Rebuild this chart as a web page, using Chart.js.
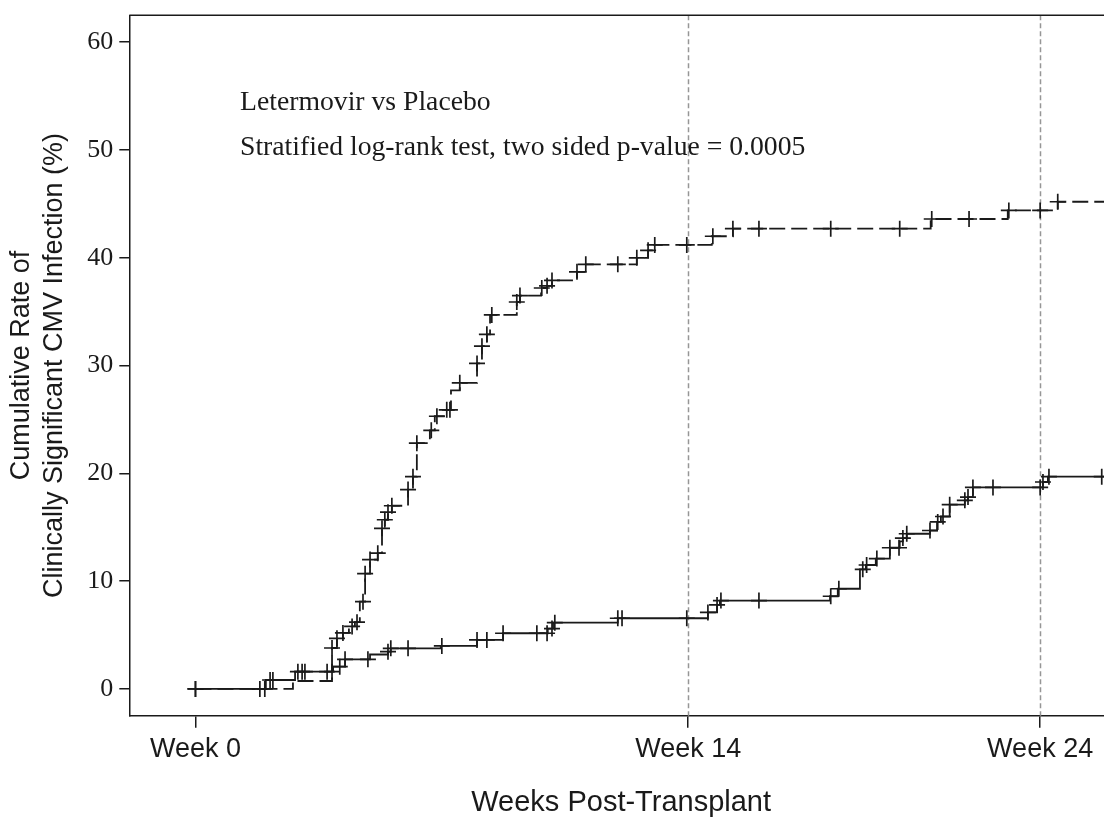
<!DOCTYPE html>
<html>
<head>
<meta charset="utf-8">
<script src="https://cdn.jsdelivr.net/npm/chart.js@4.4.1/dist/chart.umd.min.js"></script>
<style>
  html, body { margin: 0; padding: 0; background: #fff; overflow: hidden; }
  #wrap { position: relative; width: 1104px; height: 817px; overflow: hidden; }
  canvas { position: absolute; left: 0; top: 0; }
  .note { position: absolute; left: 240px; font-family: "Liberation Serif", "Times New Roman", serif;
          font-size: 27.7px; line-height: 32px; color: #1a1a1a; white-space: nowrap; }
</style>
</head>
<body>
<div id="wrap">
  <canvas id="chart" width="1125" height="817"></canvas>
  <div class="note" style="top:85px">Letermovir vs Placebo</div>
  <div class="note" style="top:130px">Stratified log-rank test, two sided p-value = 0.0005</div>
</div>
<script>
// Cumulative incidence (%) by week post-transplant: step times and levels after each step
const letermovirStepWeeks = [2.00, 2.83, 3.91, 4.25, 4.96, 5.47, 5.55, 6.97, 8.00, 8.74, 10.01, 10.16, 12.00,
  14.56, 14.82, 14.90, 18.03, 18.25, 18.88, 19.05, 19.33, 19.73, 20.01, 20.10, 20.21, 20.87, 21.07, 21.18,
  21.43, 21.86, 21.95, 22.09, 24.08, 24.22];
const letermovirStepRates = [0.83, 1.6, 2.07, 2.75, 3.2, 3.46, 3.77, 3.99, 4.55, 5.17, 5.6, 6.15, 6.56,
  7.1, 7.8, 8.2, 8.6, 9.3, 11.1, 11.5, 12.1, 13.1, 13.7, 14.0, 14.4, 14.7, 15.5, 16.0,
  17.1, 17.5, 17.8, 18.7, 19.2, 19.7];
const letermovirCensorWeeks = [0, 1.83, 1.97, 2.12, 2.20, 2.91, 3.03, 3.11, 3.74, 3.88, 4.10, 4.25, 4.90,
  5.47, 5.55, 6.04, 7.00, 8.00, 8.28, 8.74, 9.70, 9.99, 10.13, 10.21, 12.00, 12.12, 13.96, 14.56, 14.82,
  14.93, 16.01, 18.05, 18.28, 18.96, 19.07, 19.36, 19.73, 19.99, 20.10, 20.21, 20.87, 21.09, 21.24, 21.43,
  21.86, 21.95, 22.09, 22.66, 24.00, 24.08, 24.25, 25.75];

const placeboStepWeeks = [2.77, 3.88, 4.02, 4.19, 4.36, 4.53, 4.67, 4.82, 4.96, 5.18, 5.30, 5.38, 5.47, 5.58,
  6.04, 6.18, 6.29, 6.66, 6.80, 7.09, 7.26, 7.51, 8.00, 8.14, 8.28, 8.37, 9.13, 9.22, 9.82, 9.99, 10.13,
  10.84, 11.09, 12.54, 12.86, 13.00, 14.67, 15.27, 20.89, 23.08, 24.50];
const placeboStepRates = [0.74, 3.8, 4.7, 5.2, 5.8, 6.2, 8.1, 10.7, 12.0, 12.6, 14.9, 15.7, 16.4, 17.0,
  18.5, 19.7, 22.8, 24.0, 25.3, 25.9, 27.7, 28.4, 30.2, 31.8, 32.9, 34.7, 35.9, 36.5, 37.2, 37.4, 37.9,
  38.7, 39.4, 40.0, 40.7, 41.2, 42.0, 42.7, 43.6, 44.4, 45.2];
const placeboCensorWeeks = [0, 3.88, 4.02, 4.19, 4.45, 4.59, 4.76, 4.82, 4.96, 5.18, 5.30, 5.38, 5.47, 5.58,
  6.04, 6.18, 6.29, 6.70, 6.86, 7.14, 7.23, 7.51, 8.00, 8.14, 8.28, 8.42, 9.13, 9.22, 9.84, 9.99, 10.13,
  10.84, 11.09, 12.00, 12.54, 12.86, 13.05, 13.96, 14.70, 15.27, 16.01, 18.05, 20.01, 20.92, 21.98,
  23.11, 24.00, 24.50];

const followUpEndWeek = 26.5;
const yTicks = [0, 10, 20, 30, 40, 50, 60];
const xTickWeeks = [0, 14, 24];
const xTickLabels = ['Week 0', 'Week 14', 'Week 24'];
const referenceWeeks = [14, 24];

const INK = '#1a1a1a';

// Step curve points: start at 0, one point per event, carried to end of follow-up
function stepPoints(weeks, rates) {
  const pts = [{ x: 0, y: 0 }];
  weeks.forEach((w, i) => pts.push({ x: w, y: rates[i] }));
  pts.push({ x: followUpEndWeek, y: rates[rates.length - 1] });
  return pts;
}
// Censoring ticks sit on the curve level in force at that time
function censorPoints(censorWeeks, weeks, rates) {
  return censorWeeks.map(t => {
    let level = 0;
    weeks.forEach((w, i) => { if (w <= t) level = rates[i]; });
    return { x: t, y: level };
  });
}

const frameAndReferences = {
  id: 'frameAndReferences',
  beforeDatasetsDraw(chart) {
    const { ctx, chartArea: a, scales: { x } } = chart;
    ctx.save();
    ctx.strokeStyle = '#969696';
    ctx.lineWidth = 1.5;
    ctx.setLineDash([5, 3]);
    referenceWeeks.forEach(w => {
      const px = Math.round(x.getPixelForValue(w)) + 0.5;
      ctx.beginPath();
      ctx.moveTo(px, a.top);
      ctx.lineTo(px, a.bottom);
      ctx.stroke();
    });
    ctx.setLineDash([]);
    ctx.strokeStyle = INK;
    ctx.lineWidth = 1.5;
    ctx.beginPath();
    ctx.moveTo(a.left, a.top);
    ctx.lineTo(a.right, a.top);
    ctx.lineTo(a.right, a.bottom);
    ctx.stroke();
    ctx.restore();
  }
};

new Chart(document.getElementById('chart'), {
  type: 'line',
  data: {
    datasets: [
      {
        label: 'Letermovir',
        data: stepPoints(letermovirStepWeeks, letermovirStepRates),
        stepped: true,
        borderColor: INK, borderWidth: 1.8, pointRadius: 0, fill: false
      },
      {
        label: 'Placebo',
        data: stepPoints(placeboStepWeeks, placeboStepRates),
        stepped: true,
        borderColor: INK, borderWidth: 1.8, borderDash: [16, 6], pointRadius: 0, fill: false
      },
      {
        label: 'Letermovir censored',
        data: censorPoints(letermovirCensorWeeks, letermovirStepWeeks, letermovirStepRates),
        showLine: false, pointStyle: 'cross', pointRadius: 8, pointBorderWidth: 1.7,
        pointBorderColor: INK, borderColor: INK
      },
      {
        label: 'Placebo censored',
        data: censorPoints(placeboCensorWeeks, placeboStepWeeks, placeboStepRates),
        showLine: false, pointStyle: 'cross', pointRadius: 8, pointBorderWidth: 1.7,
        pointBorderColor: INK, borderColor: INK
      }
    ]
  },
  options: {
    responsive: false,
    devicePixelRatio: 1,
    animation: false,
    events: [],
    layout: { padding: { top: 15.3, right: 12, left: 0, bottom: 0 } },
    plugins: { legend: { display: false }, tooltip: { enabled: false } },
    scales: {
      x: {
        type: 'linear',
        min: -1.88, max: 26.07,
        afterFit(s) { s.height = 101.3; s.paddingLeft = 0; s.paddingRight = 0; },
        afterBuildTicks(s) { s.ticks = xTickWeeks.map(v => ({ value: v })); },
        border: { display: true, color: INK, width: 1.5 },
        grid: { drawOnChartArea: false, drawTicks: true, tickLength: 12, color: INK, lineWidth: 1.5 },
        ticks: {
          autoSkip: false, maxRotation: 0, padding: 6, color: INK,
          font: { family: '"Liberation Sans", Arial, sans-serif', size: 27 },
          callback: v => xTickLabels[xTickWeeks.indexOf(v)]
        },
        title: {
          display: true, text: 'Weeks Post-Transplant', color: INK,
          font: { family: '"Liberation Sans", Arial, sans-serif', size: 29, lineHeight: 1 },
          padding: { top: 0, bottom: 0 }
        }
      },
      y: {
        type: 'linear',
        min: -2.48, max: 62.5,
        afterFit(s) { s.width = 129.3; s.paddingTop = 0; s.paddingBottom = 0; },
        afterBuildTicks(s) { s.ticks = yTicks.map(v => ({ value: v })); },
        border: { display: true, color: INK, width: 1.5 },
        grid: { drawOnChartArea: false, drawTicks: true, tickLength: 10, color: INK, lineWidth: 1.5 },
        ticks: {
          padding: 6, color: INK,
          font: { family: '"Liberation Serif", "Times New Roman", serif', size: 26 },
          callback: v => String(v)
        },
        title: {
          display: true,
          text: ['Cumulative Rate of', 'Clinically Significant CMV Infection (%)'],
          color: INK,
          font: { family: '"Liberation Sans", Arial, sans-serif', size: 27, lineHeight: 33 / 27 },
          padding: { top: 5, bottom: 0 }
        }
      }
    }
  },
  plugins: [frameAndReferences]
});
</script>
</body>
</html>
